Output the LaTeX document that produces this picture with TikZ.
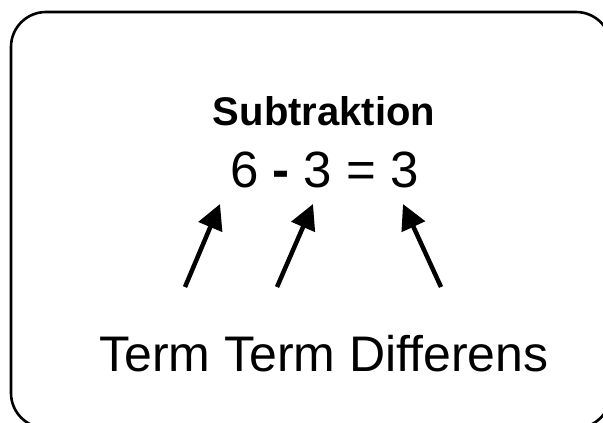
\documentclass[tikz,border=0pt]{standalone}
\usepackage{fontspec}
\setmainfont{Liberation Sans}
\usetikzlibrary{arrows.meta}
\tikzset{
  frame/.style={draw=black, line width=2.6pt, rounded corners=35pt},
  ptr/.style={line width=4.5pt, -{Triangle[length=25pt,width=25pt]}},
  lbl/.style={inner sep=0pt, anchor=base}
}
\begin{document}
\begin{tikzpicture}[x=1pt,y=-1pt]
\useasboundingbox (0,0) rectangle (603,423);
\clip (0,0) rectangle (603,423);
\fill[white] (0,0) rectangle (603,423);
\draw[frame] (11,12) rectangle (611,428);
\node[lbl, font=\fontsize{40}{46}\selectfont\bfseries] (title) at (324,125) {Subtraktion};
\node[lbl, font=\fontsize{51}{58}\selectfont] (eq) at (324.5,187) {6 {\bfseries -} 3 = 3};
\node[lbl, font=\fontsize{50}{58}\selectfont] (names) at (324,371) {Term Term Differens};
\coordinate (t1) at (185,287); \coordinate (h1) at (220,204);
\coordinate (t2) at (277,287); \coordinate (h2) at (313,204);
\coordinate (t3) at (441,287); \coordinate (h3) at (403,204);
\draw[ptr] (t1) -- (h1);
\draw[ptr] (t2) -- (h2);
\draw[ptr] (t3) -- (h3);
\end{tikzpicture}
\end{document}
